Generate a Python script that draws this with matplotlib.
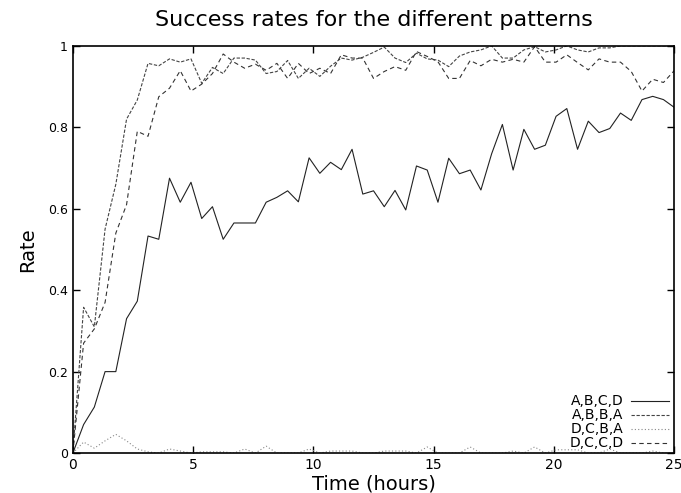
import matplotlib
matplotlib.use("Agg")
import matplotlib.pyplot as plt
import numpy as np

# sample times (57 evenly spaced samples over 25 hours)
times = np.linspace(0, 25, 57)

abcd = [0, 0.07, 0.113, 0.20, 0.20, 0.33, 0.373, 0.533, 0.525, 0.675,
        0.616, 0.665, 0.576, 0.605, 0.525, 0.565, 0.565, 0.565, 0.616, 0.628,
        0.644, 0.617, 0.725, 0.687, 0.714, 0.696, 0.746, 0.636, 0.644, 0.605,
        0.645, 0.597, 0.705, 0.695, 0.616, 0.724, 0.686, 0.695, 0.646, 0.735,
        0.807, 0.695, 0.795, 0.746, 0.756, 0.827, 0.846, 0.746, 0.815, 0.787,
        0.797, 0.835, 0.817, 0.868, 0.876, 0.868, 0.849]

abba = [0, 0.358, 0.31, 0.55, 0.66, 0.82, 0.867, 0.957, 0.951, 0.968,
        0.96, 0.968, 0.908, 0.947, 0.932, 0.97, 0.97, 0.965, 0.932, 0.937,
        0.964, 0.92, 0.945, 0.925, 0.95, 0.97, 0.965, 0.972, 0.984, 0.997,
        0.97, 0.959, 0.982, 0.968, 0.965, 0.949, 0.975, 0.985, 0.99, 1.0,
        0.97, 0.97, 0.99, 0.998, 0.985, 0.99, 1.0, 0.99, 0.985, 0.995,
        0.995, 1.0, 1.0, 1.0, 1.0, 1.0, 1.0]

dcba = [0, 0.027, 0.012, 0.03, 0.046, 0.03, 0.01, 0.003, 0.0, 0.01,
        0.005, 0.0, 0.003, 0.003, 0.003, 0.0, 0.01, 0.0, 0.017, 0.0,
        0.0, 0.0, 0.01, 0.0, 0.005, 0.005, 0.005, 0.0, 0.0, 0.005,
        0.005, 0.005, 0.0, 0.015, 0.0, 0.0, 0.0, 0.015, 0.0, 0.0,
        0.0, 0.005, 0.0, 0.015, 0.0, 0.008, 0.008, 0.008, 0.0, 0.0,
        0.01, 0.0, 0.0, 0.0, 0.005, 0.0, 0.0]

dccd = [0, 0.27, 0.305, 0.37, 0.54, 0.61, 0.79, 0.778, 0.875, 0.896,
        0.939, 0.889, 0.906, 0.932, 0.98, 0.96, 0.945, 0.955, 0.94, 0.957,
        0.92, 0.957, 0.932, 0.945, 0.932, 0.978, 0.97, 0.97, 0.92, 0.937,
        0.949, 0.94, 0.986, 0.974, 0.961, 0.92, 0.92, 0.964, 0.951, 0.967,
        0.96, 0.967, 0.96, 0.998, 0.96, 0.96, 0.978, 0.959, 0.941, 0.968,
        0.96, 0.96, 0.937, 0.889, 0.918, 0.91, 0.939]

fig = plt.figure(figsize=(6.81, 4.93), dpi=100)
ax = fig.add_axes([0.107, 0.081, 0.883, 0.826])

ax.plot(times, abcd, color='#222222', lw=0.8, label='A,B,C,D')
ax.plot(times, abba, color='#444444', lw=0.8, dashes=(3, 1.5), label='A,B,B,A')
ax.plot(times, dcba, color='#888888', lw=0.8, dashes=(1, 2), label='D,C,B,A')
ax.plot(times, dccd, color='#333333', lw=0.8, dashes=(4, 3), label='D,C,C,D')

ax.set_xlim(0, 25)
ax.set_ylim(0, 1)
ax.set_xticks([0, 5, 10, 15, 20, 25])
ax.set_yticks([0, 0.2, 0.4, 0.6, 0.8, 1.0])
ax.set_yticklabels(['0', '0.2', '0.4', '0.6', '0.8', '1'])
ax.tick_params(direction='in', top=True, right=True, length=5, width=1,
               labelsize=10)
ax.tick_params(axis='y', labelsize=9)
for s in ax.spines.values():
    s.set_linewidth(1.2)

ax.set_title('Success rates for the different patterns', fontsize=16, pad=14)
ax.set_xlabel('Time (hours)', fontsize=14, labelpad=2)
ax.set_ylabel('Rate', fontsize=14, labelpad=8)

ax.legend(loc='lower right', bbox_to_anchor=(1.006, -0.014), frameon=False,
          markerfirst=False, handlelength=2.8, handletextpad=0.5,
          labelspacing=0.0, fontsize=10, borderaxespad=0.2)

fig.savefig('out.png', dpi=100)
